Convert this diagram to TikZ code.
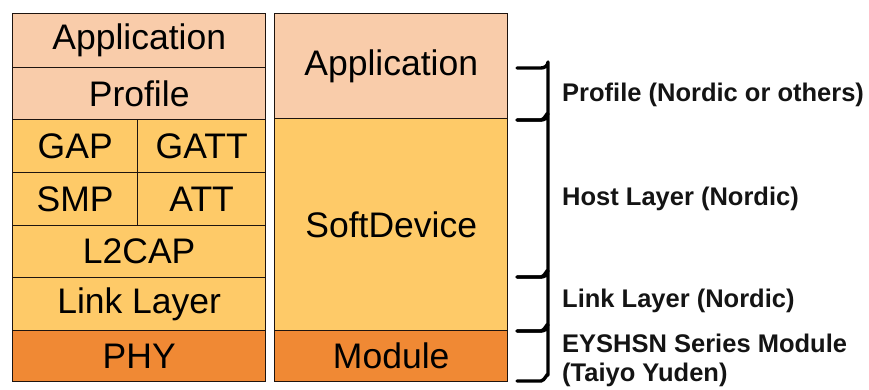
\documentclass[tikz,border=0pt]{standalone}
\usepackage{fontspec}
\setmainfont{Liberation Sans}
\usetikzlibrary{calc}
\definecolor{peach}{RGB}{249,204,170}
\definecolor{gold}{RGB}{254,202,104}
\definecolor{deep}{RGB}{240,137,52}
\definecolor{edge}{RGB}{30,20,15}
\begin{document}
\begin{tikzpicture}[x=1pt,y=-1pt,
  layer/.style={draw=edge,line width=1.4pt,anchor=north west,inner sep=0pt,
    font=\fontsize{35.5}{40}\selectfont,text=black!90},
  brk/.style={line width=3.4pt,line cap=round,line join=round},
  lbl/.style={anchor=west,inner sep=0pt,font=\fontsize{25.5}{30}\selectfont\bfseries,text=black!92,align=left}]
\useasboundingbox (0,0) rectangle (869,389);
% left stack
\node[layer,fill=peach,minimum width=253pt,minimum height=54pt] (app1) at (12,13) {};
\node at (app1.center) {\fontsize{35.5}{40}\selectfont Application};
\node[layer,fill=peach,minimum width=253pt,minimum height=52pt] (prof) at (12,67) {};
\node at (prof.center) {\fontsize{35.5}{40}\selectfont Profile};
\node[layer,fill=gold,minimum width=125pt,minimum height=53pt] (gap) at (12,119) {};
\node at (gap.center) {\fontsize{35.5}{40}\selectfont GAP};
\node[layer,fill=gold,minimum width=128pt,minimum height=53pt] (gatt) at (137,119) {};
\node at (gatt.center) {\fontsize{35.5}{40}\selectfont GATT};
\node[layer,fill=gold,minimum width=125pt,minimum height=53pt] (smp) at (12,172) {};
\node at (smp.center) {\fontsize{35.5}{40}\selectfont SMP};
\node[layer,fill=gold,minimum width=128pt,minimum height=53pt] (att) at (137,172) {};
\node at (att.center) {\fontsize{35.5}{40}\selectfont ATT};
\node[layer,fill=gold,minimum width=253pt,minimum height=52pt] (l2cap) at (12,225) {};
\node at (l2cap.center) {\fontsize{35.5}{40}\selectfont L2CAP};
\node[layer,fill=gold,minimum width=253pt,minimum height=53pt] (ll) at (12,277) {};
\node at (ll.center) {\fontsize{35.5}{40}\selectfont Link Layer};
\node[layer,fill=deep,minimum width=253pt,minimum height=51pt] (phy) at (12,330) {};
\node at (phy.center) {\fontsize{35.5}{40}\selectfont PHY};
% right stack
\node[layer,fill=peach,minimum width=233pt,minimum height=105pt] (app2) at (274,13) {};
\node at (app2.center) {\fontsize{35.5}{40}\selectfont Application};
\node[layer,fill=gold,minimum width=233pt,minimum height=212pt] (sd) at (274,118) {};
\node at (sd.center) {\fontsize{35.5}{40}\selectfont SoftDevice};
\node[layer,fill=deep,minimum width=233pt,minimum height=51pt] (mod) at (274,330) {};
\node at (mod.center) {\fontsize{35.5}{40}\selectfont Module};
% brackets
\coordinate (b0) at (517,68);
\coordinate (b1) at (517,120);
\coordinate (b2) at (517,277);
\coordinate (b3) at (517,331);
\coordinate (b4) at (517,381);
\foreach \a/\b in {b0/b1,b1/b2,b2/b3,b3/b4}{
  \draw[brk] (\a) -- ++(24,0) to[out=0,in=-90] ++(7,-6)
    -- ($(\b)+(31,-6)$) to[out=90,in=0] ($(\b)+(24,0)$) -- (\b);
}
% labels
\node[lbl] (l1) at (562,95) {Profile (Nordic or others)};
\node[lbl] (l2) at (562,199) {Host Layer (Nordic)};
\node[lbl] (l3) at (562,301) {Link Layer (Nordic)};
\node[lbl,anchor=north west] (l4) at (562,334) {EYSHSN Series Module\\[-1pt](Taiyo Yuden)};
\end{tikzpicture}
\end{document}
